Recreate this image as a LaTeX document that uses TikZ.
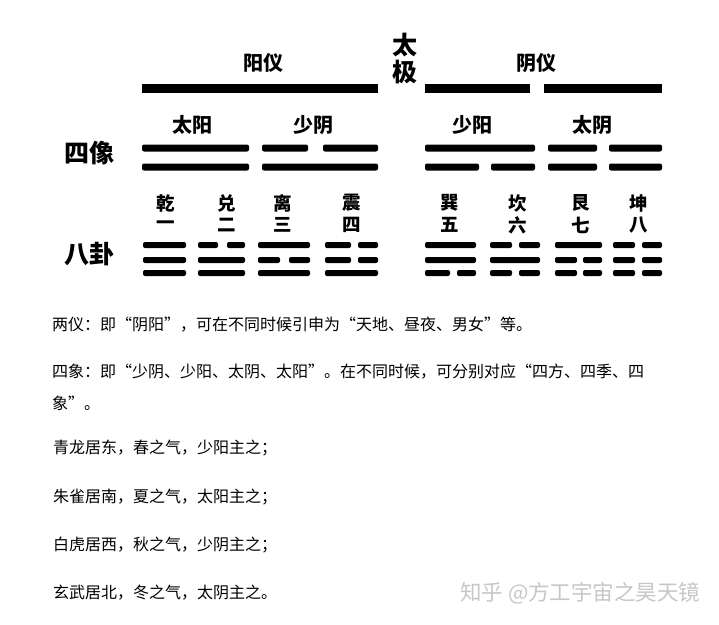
\documentclass[tikz,border=0pt]{standalone}
\usepackage{fontspec}
\setmainfont{Noto Sans CJK SC}
\newfontfamily\cjkfont{Noto Sans CJK SC}
\newcommand\seg[5]{\fill[black,rounded corners=#5] (#1,{#3-#4/2}) rectangle (#2,{#3+#4/2});}
\tikzset{
  biglabel/.style={font=\cjkfont\bfseries\fontsize{25}{25}\selectfont, inner sep=0pt},
  toplabel/.style={font=\cjkfont\bfseries\fontsize{20}{20}\selectfont, inner sep=0pt},
  guilabel/.style={font=\cjkfont\bfseries\fontsize{18.5}{18.5}\selectfont, inner sep=0pt},
  bodytext/.style={font=\cjkfont\fontsize{16}{16}\selectfont, inner sep=0pt, anchor=west, text=black},
  watermark/.style={font=\cjkfont\fontsize{21.5}{21.5}\selectfont, inner sep=0pt, anchor=west, text=black!22},
}
\begin{document}
\begin{tikzpicture}[x=1pt,y=-1pt]
\useasboundingbox[fill=white] (0,0) rectangle (719,624);
% Row 1
\node[toplabel] (yangyi) at (263,63) {阳仪};
\node[toplabel] (yinyi) at (536,63) {阴仪};
\node[biglabel] (tai) at (405,45) {太};
\node[biglabel] (ji) at (405,72) {极};
\seg{142}{378}{88}{9}{0}
\seg{425}{530}{88}{9}{0}
\seg{544}{662}{88}{9}{0}
% Row 2
\node[biglabel] (sixiang) at (89,153) {四像};
\node[toplabel] (taiyang) at (192,125) {太阳};
\node[toplabel] (shaoyin) at (313,125) {少阴};
\node[toplabel] (shaoyang) at (472,125) {少阳};
\node[toplabel] (taiyin) at (592,125) {太阴};
\seg{142}{249}{148}{7}{2}
\seg{142}{249}{167}{7}{2}
\seg{262}{308}{148}{7}{2}
\seg{323}{378}{148}{7}{2}
\seg{262}{378}{167}{7}{2}
\seg{425}{535}{148}{7}{2}
\seg{425}{479}{167}{7}{2}
\seg{491}{535}{167}{7}{2}
\seg{548}{597}{148}{7}{2}
\seg{609}{662}{148}{7}{2}
\seg{548}{597}{167}{7}{2}
\seg{609}{662}{167}{7}{2}
% Row 3
\node[biglabel] (bagua) at (89,254) {八卦};
\node[guilabel] (qian) at (166,203) {乾};
\node[guilabel] (n1) at (166,225) {一};
\node[guilabel] (dui) at (227,203) {兑};
\node[guilabel] (n2) at (227,225) {二};
\node[guilabel] (li) at (283,203) {离};
\node[guilabel] (n3) at (283,225) {三};
\node[guilabel] (zhen) at (352,203) {震};
\node[guilabel] (n4) at (352,225) {四};
\node[guilabel] (xun) at (450,203) {巽};
\node[guilabel] (n5) at (450,225) {五};
\node[guilabel] (kan) at (518,203) {坎};
\node[guilabel] (n6) at (518,225) {六};
\node[guilabel] (gen) at (581,203) {艮};
\node[guilabel] (n7) at (581,225) {七};
\node[guilabel] (kun) at (639,203) {坤};
\node[guilabel] (n8) at (639,225) {八};
% qian
\seg{143}{186}{245}{6}{2}
\seg{143}{186}{260}{6}{2}
\seg{143}{186}{273}{6}{2}
% dui
\seg{198}{218}{245}{6}{2}
\seg{227}{245}{245}{6}{2}
\seg{198}{245}{260}{6}{2}
\seg{198}{245}{273}{6}{2}
% li
\seg{258}{310}{245}{6}{2}
\seg{258}{280}{260}{6}{2}
\seg{289}{310}{260}{6}{2}
\seg{258}{310}{273}{6}{2}
% zhen
\seg{325}{351}{245}{6}{2}
\seg{358}{378}{245}{6}{2}
\seg{325}{351}{260}{6}{2}
\seg{358}{378}{260}{6}{2}
\seg{325}{378}{273}{6}{2}
% xun
\seg{425}{476}{245}{6}{2}
\seg{425}{476}{260}{6}{2}
\seg{425}{450}{273}{6}{2}
\seg{457}{476}{273}{6}{2}
% kan
\seg{490}{512}{245}{6}{2}
\seg{519}{540}{245}{6}{2}
\seg{490}{540}{260}{6}{2}
\seg{490}{512}{273}{6}{2}
\seg{519}{540}{273}{6}{2}
% gen
\seg{555}{602}{245}{6}{2}
\seg{555}{577}{260}{6}{2}
\seg{583}{602}{260}{6}{2}
\seg{555}{577}{273}{6}{2}
\seg{583}{602}{273}{6}{2}
% kun
\seg{613}{635}{245}{6}{2}
\seg{642}{662}{245}{6}{2}
\seg{613}{635}{260}{6}{2}
\seg{642}{662}{260}{6}{2}
\seg{613}{635}{273}{6}{2}
\seg{642}{662}{273}{6}{2}
% Body text
\node[bodytext] (t1) at (52,325) {两仪：即“阴阳”，可在不同时候引申为“天地、昼夜、男女”等。};
\node[bodytext] (t2) at (52,372) {四象：即“少阴、少阳、太阴、太阳”。在不同时候，可分别对应“四方、四季、四};
\node[bodytext] (t3) at (52,403) {象”。};
\node[bodytext] (t4) at (53,448) {青龙居东，春之气，少阳主之；};
\node[bodytext] (t5) at (53,497) {朱雀居南，夏之气，太阳主之；};
\node[bodytext] (t6) at (53,545) {白虎居西，秋之气，少阴主之；};
\node[bodytext] (t7) at (53,593) {玄武居北，冬之气，太阴主之。};
\node[watermark] (wm) at (460,593) {知乎 @方工宇宙之昊天镜};
\end{tikzpicture}
\end{document}
